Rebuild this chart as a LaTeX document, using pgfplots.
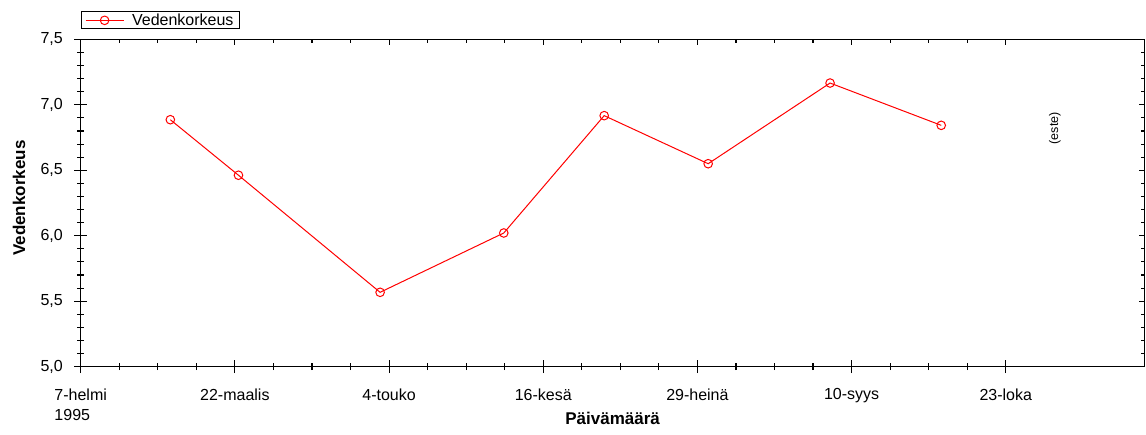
\documentclass[border=0pt]{standalone}
\usepackage{pgfplots}
\pgfplotsset{compat=1.18}
\usepackage{fontspec}
\setmainfont{Liberation Sans}

\begin{document}
\begin{tikzpicture}
\path[use as bounding box] (-80.7pt,-68.3pt) rectangle ++(1146pt,435pt);
\pgfplotsset{
 common/.style={
   scale only axis, width=1063.8pt, height=327.4pt,
   xmin=0, xmax=296.7, ymin=5, ymax=7.5,
   xtick={0,43,86,129,172,215,258},
   ytick={5,5.5,6,6.5,7,7.5},
   minor x tick num=3, minor y tick num=4,
   axis line style={line width=1.1pt, black},
   every tick/.style={black, line width=1.1pt},
   at={(0,0)}, anchor=south west,
 }
}
\begin{axis}[common,
  axis x line*=top, axis y line*=right, tick align=inside,
  major tick length=6pt, minor tick length=3.3pt,
  xticklabels={}, yticklabels={}]
\end{axis}
\begin{axis}[common,
  axis x line*=bottom, axis y line*=left, tick align=center,
  major tick length=12.7pt, minor tick length=6.7pt,
  xticklabels={{7-helmi\\1995},22-maalis,4-touko,16-kesä,29-heinä,10-syys,23-loka},
  yticklabels={{5,0},{5,5},{6,0},{6,5},{7,0},{7,5}},
  xticklabel style={align=left, font=\fontsize{16}{20}\selectfont, yshift=-12pt},
  yticklabel style={font=\fontsize{16}{18}\selectfont, xshift=-8pt},
  xlabel={Päivämäärä}, ylabel={Vedenkorkeus},
  label style={font=\bfseries\fontsize{17}{19}\selectfont},
  xlabel style={at={(rel axis cs:0.5,0)}, anchor=base, yshift=-58.3pt},
  ylabel style={at={(rel axis cs:0,0.515)}, anchor=center, yshift=61.7pt},
  legend style={at={(rel axis cs:0,1)}, anchor=south west, yshift=10pt, draw=black, line width=0.8pt,
    font=\fontsize{16}{18}\selectfont, inner xsep=4pt, inner ysep=0pt,
    /tikz/every odd column/.append style={column sep=6pt}},
  legend cell align=left,
  legend image code/.code={\draw[#1,mark repeat=2,mark phase=2] plot coordinates {(0pt,0pt) (19pt,0pt) (38pt,0pt)};},
  clip=false,
]
\addplot[red, line width=1pt, mark=o, mark size=4.3pt, mark options={line width=1pt}] coordinates {
(25,6.886) (44,6.462) (83.5,5.568) (118,6.021) (146,6.917) (175,6.550) (209,7.166) (240,6.843)
};
\addlegendentry{Vedenkorkeus}
\node[rotate=90, font=\fontsize{12.5}{14}\selectfont] at (axis cs:271.7,6.82) {(este)};
\end{axis}
\end{tikzpicture}
\end{document}
